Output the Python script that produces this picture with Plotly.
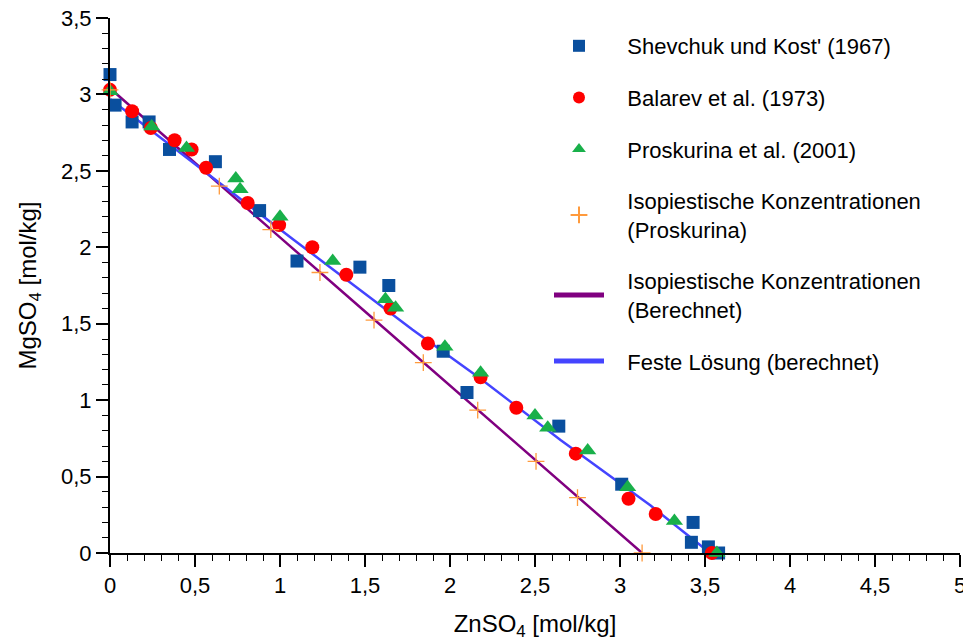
import plotly.graph_objects as go

# Shevchuk und Kost' (1967)
shev_x = [0.0, 0.03, 0.13, 0.23, 0.35, 0.62, 0.88, 1.10, 1.47, 1.64, 1.96, 2.10, 2.64, 3.01, 3.43, 3.42, 3.52, 3.58]
shev_y = [3.13, 2.93, 2.82, 2.82, 2.64, 2.56, 2.24, 1.91, 1.87, 1.75, 1.32, 1.05, 0.83, 0.45, 0.20, 0.07, 0.04, 0.0]

# Balarev et al. (1973)
bal_x = [0.0, 0.13, 0.24, 0.38, 0.48, 0.565, 0.81, 0.995, 1.19, 1.39, 1.65, 1.87, 2.18, 2.39, 2.74, 3.05, 3.21, 3.54]
bal_y = [3.03, 2.89, 2.78, 2.70, 2.64, 2.52, 2.29, 2.145, 2.00, 1.82, 1.60, 1.37, 1.15, 0.95, 0.65, 0.355, 0.255, 0.0]

# Proskurina et al. (2001)
pros_x = [0.0, 0.245, 0.45, 0.74, 0.765, 1.0, 1.31, 1.62, 1.68, 1.97, 2.18, 2.50, 2.575, 2.81, 3.045, 3.32, 3.57]
pros_y = [3.02, 2.79, 2.65, 2.45, 2.38, 2.20, 1.91, 1.66, 1.605, 1.35, 1.18, 0.90, 0.82, 0.67, 0.43, 0.21, 0.0]

# Isopiestische Konzentrationen (Proskurina)
iso_x = [0.0, 0.643, 0.946, 1.235, 1.553, 1.843, 2.163, 2.506, 2.75, 3.13]
iso_y = [3.03, 2.40, 2.115, 1.835, 1.524, 1.245, 0.935, 0.60, 0.362, 0.0]

# Isopiestische Konzentrationen (Berechnet)
calc_x = [0.0, 0.5, 1.0, 1.5, 2.0, 2.5, 3.0, 3.13]
calc_y = [3.04, 2.55, 2.065, 1.58, 1.095, 0.61, 0.125, 0.0]

# Feste Lösung (berechnet)
fest_x = [0.0, 0.7, 1.08, 1.78, 2.18, 2.65, 3.18, 3.53]
fest_y = [2.97, 2.37, 2.05, 1.46, 1.14, 0.74, 0.31, 0.0]

FONT = "Liberation Sans, Arial, sans-serif"
PAD = "\u00a0\u00a0\u00a0"

fig = go.Figure()
fig.add_trace(go.Scatter(x=calc_x, y=calc_y, mode="lines",
                         name=PAD + "Isopiestische Konzentrationen<br>" + PAD + "(Berechnet)",
                         line=dict(color="#800080", width=2.5), legendrank=5, legendgroup="e", cliponaxis=False))
fig.add_trace(go.Scatter(x=fest_x, y=fest_y, mode="lines", name=PAD + "Feste Lösung (berechnet)",
                         line=dict(color="#4444ff", width=2.5), legendrank=6, legendgroup="f", cliponaxis=False))
fig.add_trace(go.Scatter(x=shev_x, y=shev_y, mode="markers", name=PAD + "Shevchuk und Kost' (1967)",
                         marker=dict(symbol="square", size=13, color="#0a4f9e"), legendrank=1, legendgroup="a", cliponaxis=False))
fig.add_trace(go.Scatter(x=bal_x, y=bal_y, mode="markers", name=PAD + "Balarev et al. (1973)",
                         marker=dict(symbol="circle", size=14, color="#ff0000"), legendrank=2, legendgroup="b", cliponaxis=False))
fig.add_trace(go.Scatter(x=pros_x, y=pros_y, mode="markers", name=PAD + "Proskurina et al. (2001)",
                         marker=dict(symbol="triangle-up", size=15, color="#19b04a"), legendrank=3, legendgroup="c", cliponaxis=False))
fig.add_trace(go.Scatter(x=iso_x, y=iso_y, mode="markers",
                         name=PAD + "Isopiestische Konzentrationen<br>" + PAD + "(Proskurina)",
                         marker=dict(symbol="cross-thin", size=12, line=dict(color="#ff9a3c", width=1.3)),
                         legendrank=4, legendgroup="d", cliponaxis=False))

axis_common = dict(
    showline=True, linecolor="black", linewidth=2, showgrid=False, zeroline=False,
    ticks="outside", ticklen=12, tickwidth=1.5, tickcolor="black",
    tickfont=dict(family=FONT, size=22, color="black"),
    ticklabeloverflow="allow",
    minor=dict(ticks="outside", ticklen=6, tickwidth=1.2, tickcolor="black", dtick=0.1),
)

fig.update_layout(
    width=963, height=633,
    margin=dict(l=102, r=11, t=10, b=88, autoexpand=False),
    plot_bgcolor="white", paper_bgcolor="white",
    separators=", ",
    font=dict(family=FONT, color="black"),
    xaxis=dict(range=[0, 5], dtick=0.5, tick0=0,
               title=dict(text="ZnSO<sub>4</sub> [mol/kg]", font=dict(family=FONT, size=24), standoff=20),
               **axis_common),
    yaxis=dict(range=[0, 3.5], dtick=0.5, tick0=0,
               title=dict(text="MgSO<sub>4</sub> [mol/kg]", font=dict(family=FONT, size=24), standoff=18),
               **axis_common),
    legend=dict(x=439 / 850, y=1 - 7 / 535,
                xanchor="left", yanchor="top", font=dict(family=FONT, size=22, color="black"),
                bgcolor="rgba(0,0,0,0)", tracegroupgap=20, itemwidth=50, itemsizing="constant"),
    showlegend=True,
)

fig.write_html("out.html")
